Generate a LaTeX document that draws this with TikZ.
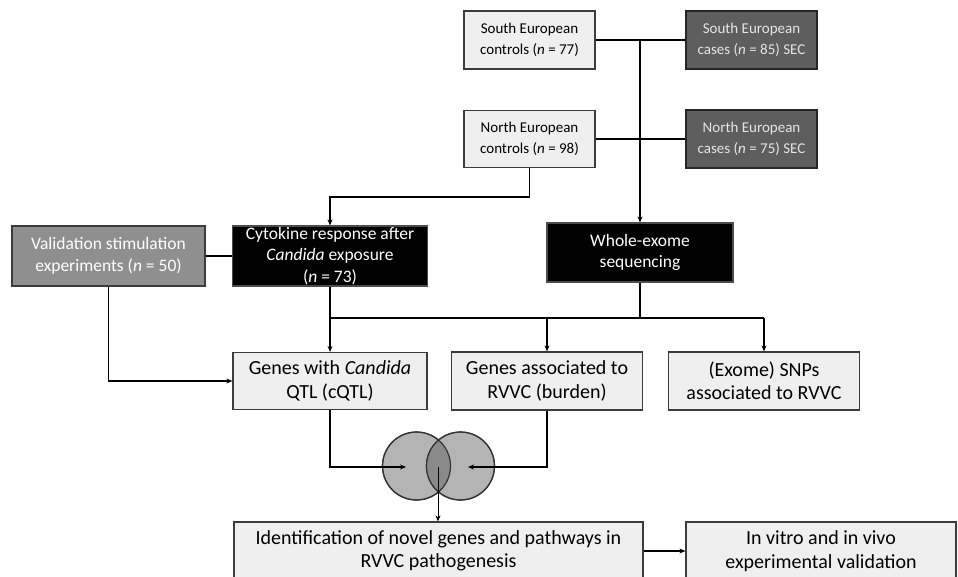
\documentclass[tikz,border=0pt]{standalone}
\usepackage{fontspec}
\setmainfont{Carlito}
\usetikzlibrary{arrows.meta}

\definecolor{boxlight}{HTML}{EFEFEF}
\definecolor{boxcase}{HTML}{5E5E5E}
\definecolor{boxvalid}{HTML}{8F8F8F}
\definecolor{rimgray}{HTML}{3C3C3C}
\definecolor{vennfill}{HTML}{B4B4B4}
\definecolor{vennboth}{HTML}{8A8A8A}
\newcommand\toptxt{\fontsize{15}{21}\selectfont}
\newcommand\midtxt{\fontsize{17.5}{21.5}\selectfont}
\newcommand\bigtxt{\fontsize{20}{23.5}\selectfont}

\begin{document}
\begin{tikzpicture}[x=1pt, y=-1pt, line width=1.2pt,
	>={Stealth[length=6pt,width=5pt]},
	lightbox/.style={draw=rimgray, fill=boxlight, align=center, inner sep=0pt},
	casebox/.style={draw=black!85, fill=boxcase, text=white!90!black, align=center, inner sep=0pt},
	blackbox/.style={draw=black!70, fill=black, text=white, align=center, inner sep=0pt},
	venn/.style={circle, draw=black!80, fill=vennfill, minimum size=68pt, inner sep=0pt}]
		\useasboundingbox (0,0) rectangle (958,576);
		% cohorts
		\node[lightbox, minimum width=131pt, minimum height=58pt, font=\toptxt] (sc) at (529.5,40)
		{South European\\controls (\textit{n} = 77)};
		\node[casebox, minimum width=131pt, minimum height=58pt, font=\toptxt] (scase) at (751.5,40)
		{South European\\cases (\textit{n} = 85) SEC};
		\node[lightbox, minimum width=131pt, minimum height=57pt, font=\toptxt] (nc) at (529.5,139)
		{North European\\controls (\textit{n} = 98)};
		\node[casebox, minimum width=131pt, minimum height=58pt, font=\toptxt] (ncase) at (751.5,139)
		{North European\\cases (\textit{n} = 75) SEC};
		% experiments
		\node[lightbox, fill=boxvalid, text=white, minimum width=193pt, minimum height=60pt, font=\midtxt] (val) at (108.5,256)
		{Validation stimulation\\experiments (\textit{n} = 50)};
		\node[blackbox, minimum width=195pt, minimum height=60pt, font=\midtxt] (cyto) at (330,256)
		{Cytokine response after\\\textit{Candida} exposure\\(\textit{n} = 73)};
		\node[blackbox, minimum width=186pt, minimum height=59pt, font=\midtxt] (wes) at (640,252.5)
		{Whole-exome\\sequencing};
		% results
		\node[lightbox, minimum width=194pt, minimum height=57pt, font=\bigtxt] (gq) at (330,381)
		{Genes with \textit{Candida}\\QTL (cQTL)};
		\node[lightbox, minimum width=191pt, minimum height=58pt, font=\bigtxt] (gb) at (547,381)
		{Genes associated to\\RVVC (burden)};
		\node[lightbox, minimum width=191pt, minimum height=58pt, font=\bigtxt] (snp) at (764,381)
		{(Exome) SNPs\\associated to RVVC};
		\node[lightbox, minimum width=409pt, minimum height=58pt, font=\bigtxt] (ident) at (438.5,551)
		{Identification of novel genes and pathways in\\RVVC pathogenesis};
		\node[lightbox, minimum width=270pt, minimum height=58pt, font=\bigtxt] (vitro) at (821,551)
		{In vitro and in vivo\\experimental validation};
		% venn diagram
		\node[venn] (setq) at (416.5,466) {};
		\node[venn] (setb) at (460.5,466) {};
		\begin{scope}
			\clip (setq.center) circle (34);
			\fill[vennboth] (setb.center) circle (34);
		\end{scope}
		\draw[black!80] (setq.center) circle (34) (setb.center) circle (34);
		% connectors
		\coordinate (ncbend) at (529.5,197);
		\coordinate (split) at (642,318);
		\coordinate (inq) at (406,467);
		\coordinate (inb) at (468,467);
		\coordinate (both) at (438,467);
		\draw (sc.east) -- (scase.west);
		\draw (nc.east) -- (ncase.west);
		\draw[->] (wes.north |- sc.east) -- (wes.north);
		\draw[->] (nc.south) -- (ncbend) -| (cyto.north);
		\draw (val.east) -- (cyto.west);
		\draw[->] (val.south) |- (gq.west);
		\draw[->] (cyto.south) -- (gq.north);
		\draw (wes.south) -- (wes.south |- split);
		\draw (cyto.south |- split) -- (snp.north |- split);
		\draw[->] (gb.north |- split) -- (gb.north);
		\draw[->] (snp.north |- split) -- (snp.north);
		\draw[->] (gq.south) |- (inq);
		\draw[->] (gb.south) |- (inb);
		\draw[->, line width=1pt] (both) -- (both |- ident.north);
		\draw[->] (ident.east) -- (vitro.west);
\end{tikzpicture}
\end{document}
